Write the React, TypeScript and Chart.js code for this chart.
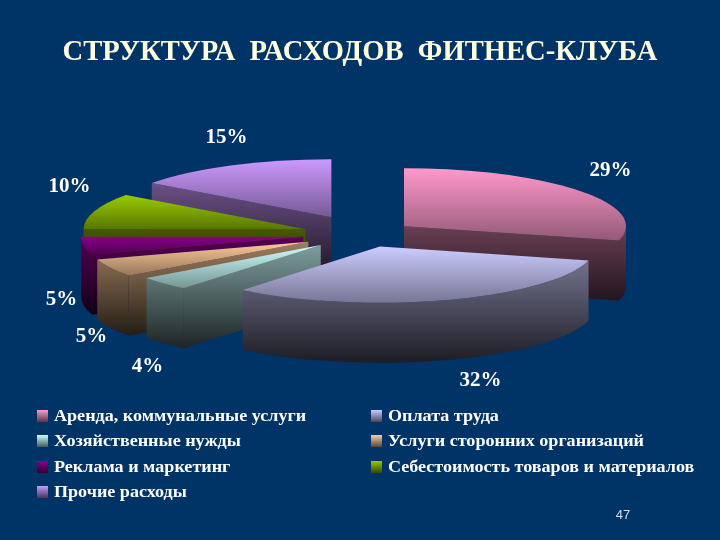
import React, { useEffect, useRef } from "react";
import { Chart, registerables } from "chart.js";

Chart.register(...registerables);

const titleText = "СТРУКТУРА  РАСХОДОВ  ФИТНЕС-КЛУБА";
const categories = [
  "Аренда, коммунальные услуги",
  "Оплата труда",
  "Хозяйственные нужды",
  "Услуги сторонних организаций",
  "Реклама и маркетинг",
  "Себестоимость товаров и материалов",
  "Прочие расходы",
];
const shares = [29, 32, 4, 5, 5, 10, 15];
const sliceColors = ["#ff99cc", "#ccccff", "#ccffff", "#ffcc99", "#8a008a", "#99cc00", "#cc99ff"];
const explode = [50, 50, 60, 63, 62, 62, 73];
const pageNumber = "47";

// Layout of the drawing (not data)
const BG = "#003366";
const RX = 222;
const RY = 58;
const DEPTH = 60;
const CENTER_SHIFT = 4.5;
const perspective = [1, 0.97, 0.97, 1, 1, 1, 1];
const paintOrder = [6, 5, 4, 3, 2, 0, 1];
const labelAnchors = [
  [246, -64], [116, 146], [-217, 132], [-273, 102], [-303, 65], [-295, -48], [-138, -97],
];
const legendCells = [
  [37, 416], [371, 416], [37, 441], [371, 441], [37, 467], [371, 467], [37, 492],
];

function shade(hex: string, f: number) {
  const n = parseInt(hex.slice(1), 16);
  const r = Math.round(((n >> 16) & 255) * f);
  const g = Math.round(((n >> 8) & 255) * f);
  const b = Math.round((n & 255) * f);
  return `rgb(${r},${g},${b})`;
}

const pie3d = {
  id: "pie3d",
  beforeDatasetsDraw(chart: any) {
    const ctx: CanvasRenderingContext2D = chart.ctx;
    const arcs = chart.getDatasetMeta(0).data;
    const TAU = Math.PI * 2;
    ctx.save();
    paintOrder.forEach((i) => {
      const arc = arcs[i];
      const s = arc.startAngle;
      const e = arc.endAngle;
      const mid = (s + e) / 2;
      const o = arc.options.offset;
      const rx = RX * perspective[i];
      const ry = RY * perspective[i];
      const ax = arc.x + CENTER_SHIFT + o * Math.cos(mid);
      const ay = arc.y + (o * Math.sin(mid) * RY) / RX;
      const color = sliceColors[i];
      const edge = (t: number) => [ax + rx * Math.cos(t), ay + ry * Math.sin(t)];
      // vertical extent of the top face
      const ys = [ay, edge(s)[1], edge(e)[1]];
      for (let k = -1; k < 4; k++) {
        const t = (k * Math.PI) / 2;
        for (const q of [t, t + TAU, t - TAU]) if (q >= s && q <= e) ys.push(edge(q)[1]);
      }
      const minY = Math.min(...ys);
      const maxY = Math.max(...ys);
      const wallTop = Math.min(ay, edge(s)[1], edge(e)[1]);
      const wall = ctx.createLinearGradient(0, wallTop, 0, maxY + DEPTH);
      wall.addColorStop(0, shade(color, 0.62));
      wall.addColorStop(1, shade(color, 0.14));
      ctx.fillStyle = wall;
      // radial faces that look toward the viewer
      const radial = (t: number) => {
        const p = edge(t);
        ctx.beginPath();
        ctx.moveTo(ax, ay);
        ctx.lineTo(p[0], p[1]);
        ctx.lineTo(p[0], p[1] + DEPTH);
        ctx.lineTo(ax, ay + DEPTH);
        ctx.closePath();
        ctx.fill();
      };
      if (-Math.cos(s) > 0) radial(s);
      if (Math.cos(e) > 0) radial(e);
      // outer rim, front half only
      for (const shift of [0, TAU, -TAU]) {
        const a = Math.max(s, shift);
        const b = Math.min(e, shift + Math.PI);
        if (b > a) {
          const p = edge(b);
          ctx.beginPath();
          ctx.ellipse(ax, ay, rx, ry, 0, a, b);
          ctx.lineTo(p[0], p[1] + DEPTH);
          ctx.ellipse(ax, ay + DEPTH, rx, ry, 0, b, a, true);
          ctx.closePath();
          ctx.fill();
        }
      }
      // top face
      const top = ctx.createLinearGradient(0, minY, 0, maxY);
      top.addColorStop(0, color);
      top.addColorStop(1, shade(color, 0.58));
      ctx.fillStyle = top;
      ctx.beginPath();
      ctx.moveTo(ax, ay);
      ctx.ellipse(ax, ay, rx, ry, 0, s, e);
      ctx.closePath();
      ctx.fill();
    });
    ctx.restore();
    return false;
  },
  afterDraw(chart: any) {
    const ctx: CanvasRenderingContext2D = chart.ctx;
    const arcs = chart.getDatasetMeta(0).data;
    const cx = arcs[0].x + CENTER_SHIFT;
    const cy = arcs[0].y;
    ctx.save();
    ctx.textBaseline = "middle";
    // value labels
    ctx.textAlign = "center";
    ctx.fillStyle = "#ffffff";
    ctx.font = 'bold 21px "Liberation Serif"';
    shares.forEach((v, i) => {
      ctx.fillText(`${v}%`, cx + labelAnchors[i][0], cy + labelAnchors[i][1]);
    });
    // legend
    ctx.textAlign = "left";
    ctx.font = 'bold 16px "Liberation Serif"';
    categories.forEach((name, i) => {
      const [x, y] = legendCells[i];
      const g = ctx.createLinearGradient(0, y - 6, 0, y + 6);
      g.addColorStop(0, sliceColors[i]);
      g.addColorStop(1, shade(sliceColors[i], 0.35));
      ctx.fillStyle = g;
      ctx.fillRect(x, y - 6, 11, 12);
      ctx.fillStyle = "#ffffff";
      ctx.save();
      ctx.translate(x + 17, y + 1);
      ctx.scale(1.13, 1);
      ctx.fillText(name, 0, 0);
      ctx.restore();
    });
    // page number
    ctx.font = '13px "Liberation Sans"';
    ctx.fillStyle = "#d8dde6";
    ctx.textAlign = "center";
    ctx.fillText(pageNumber, 623, 515);
    ctx.restore();
  },
};

export default function App() {
  const ref = useRef<HTMLCanvasElement>(null);
  useEffect(() => {
    document.body.style.margin = "0";
    document.body.style.background = BG;
    const chart = new Chart(ref.current!, {
      type: "pie",
      data: {
        labels: categories,
        datasets: [{ data: shares, backgroundColor: sliceColors, borderWidth: 0, offset: explode }],
      },
      options: {
        responsive: false,
        animation: false,
        layout: { padding: { bottom: 141 } },
        plugins: {
          legend: { display: false },
          tooltip: { enabled: false },
          title: {
            display: true,
            text: titleText,
            color: "#ffffe0",
            font: { family: '"Liberation Serif"', size: 28.6, weight: "bold" },
            padding: { top: 35, bottom: 0 },
          },
        },
      },
      plugins: [pie3d],
    } as any);
    return () => chart.destroy();
  }, []);
  return (
    <div style={{ position: "fixed", left: 0, top: 0, width: 720, height: 540, background: BG }}>
      <canvas ref={ref} width={720} height={540} style={{ display: "block" }} />
    </div>
  );
}
